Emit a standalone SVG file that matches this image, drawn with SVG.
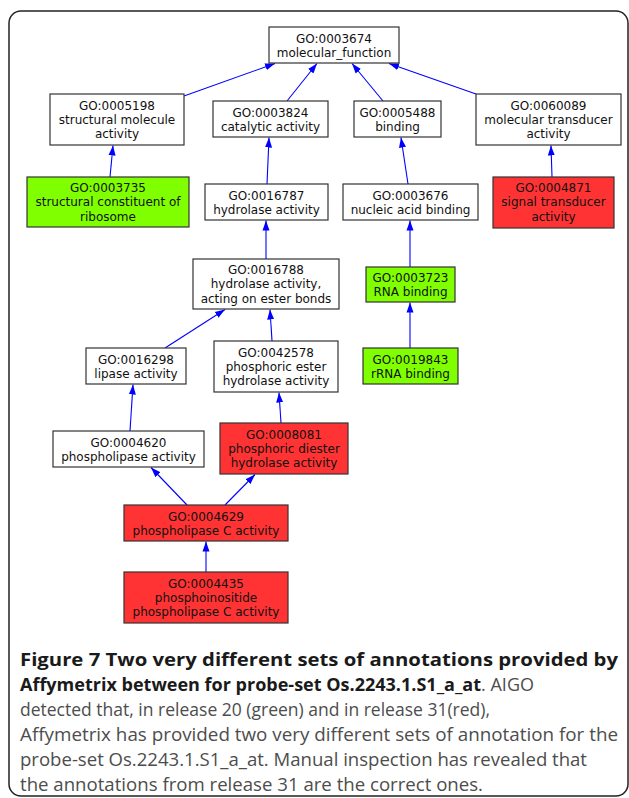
<svg xmlns="http://www.w3.org/2000/svg" width="629" height="798" viewBox="0 0 629 798">
<style>
.box{stroke:#333;stroke-width:1.2}
.w{fill:#ffffff}
.g{fill:#7fff00}
.r{fill:#ff3333}
.t{font-family:"DejaVu Sans",sans-serif;font-size:12px;fill:#111;text-anchor:middle}
.e{stroke:#0000ff;stroke-width:1.1;fill:none;marker-end:url(#ah)}
.cb{font-family:"Open Sans","Noto Sans",sans-serif;font-size:18px;font-weight:bold;fill:#1a1a1a}
.cr{font-family:"Open Sans","Noto Sans",sans-serif;font-size:18px;font-weight:normal;fill:#4d4d4d}
</style>
<defs>
<marker id="ah" markerUnits="userSpaceOnUse" markerWidth="10" markerHeight="8" refX="10" refY="4" orient="auto">
<path d="M0,0.5 L10,4 L0,7.5 z" fill="#0000ff"/>
</marker>
</defs>
<rect x="0" y="0" width="629" height="798" fill="#ffffff"/>
<rect x="9" y="11" width="619" height="785" rx="12" ry="12" fill="none" stroke="#222" stroke-width="1.5"/>

<g id="edges">
<line class="e" x1="184" y1="96" x2="275" y2="63.5"/>
<line class="e" x1="287" y1="101" x2="317" y2="63.5"/>
<line class="e" x1="383" y1="101" x2="352" y2="63.5"/>
<line class="e" x1="476" y1="94" x2="389" y2="63.5"/>
<line class="e" x1="110" y1="177" x2="113" y2="145.5"/>
<line class="e" x1="267" y1="184" x2="269" y2="137.5"/>
<line class="e" x1="408" y1="184" x2="401" y2="137.5"/>
<line class="e" x1="552" y1="177" x2="551" y2="145.5"/>
<line class="e" x1="266" y1="259" x2="266" y2="220.5"/>
<line class="e" x1="410" y1="267" x2="410" y2="220.5"/>
<line class="e" x1="165" y1="348" x2="225" y2="309.5"/>
<line class="e" x1="272" y1="341" x2="270" y2="309.5"/>
<line class="e" x1="410" y1="348" x2="410" y2="302.5"/>
<line class="e" x1="130" y1="431" x2="133" y2="384.5"/>
<line class="e" x1="281" y1="423" x2="279" y2="392.5"/>
<line class="e" x1="187" y1="505" x2="151" y2="467.5"/>
<line class="e" x1="225" y1="505" x2="255" y2="474.5"/>
<line class="e" x1="206" y1="572" x2="206" y2="541.5"/>
</g>

<g id="n0003674"><rect class="box w" x="269" y="27" width="130" height="36"/><text class="t" x="334" y="42.5">GO:0003674</text><text class="t" x="334" y="56.5">molecular_function</text></g>
<g id="n0005198"><rect class="box w" x="50" y="94" width="134" height="51"/><text class="t" x="117" y="109.5">GO:0005198</text><text class="t" x="117" y="123.8">structural molecule</text><text class="t" x="117" y="138.3">activity</text></g>
<g id="n0003824"><rect class="box w" x="213" y="101" width="115" height="36"/><text class="t" x="270.5" y="116.5">GO:0003824</text><text class="t" x="270.5" y="130.5">catalytic activity</text></g>
<g id="n0005488"><rect class="box w" x="354" y="101" width="87" height="36"/><text class="t" x="397.5" y="116.5">GO:0005488</text><text class="t" x="397.5" y="130.5">binding</text></g>
<g id="n0060089"><rect class="box w" x="476" y="94" width="145" height="51"/><text class="t" x="548.5" y="109.5">GO:0060089</text><text class="t" x="548.5" y="123.8">molecular transducer</text><text class="t" x="548.5" y="138.3">activity</text></g>
<g id="n0003735"><rect class="box g" x="27" y="177" width="162" height="50"/><text class="t" x="108" y="192">GO:0003735</text><text class="t" x="108" y="206.3">structural constituent of</text><text class="t" x="108" y="220.8">ribosome</text></g>
<g id="n0016787"><rect class="box w" x="205" y="184" width="123" height="36"/><text class="t" x="266.5" y="199.5">GO:0016787</text><text class="t" x="266.5" y="213.5">hydrolase activity</text></g>
<g id="n0003676"><rect class="box w" x="343" y="184" width="135" height="36"/><text class="t" x="410.5" y="199.5">GO:0003676</text><text class="t" x="410.5" y="213.5">nucleic acid binding</text></g>
<g id="n0004871"><rect class="box r" x="493" y="177" width="121" height="51"/><text class="t" x="553.5" y="192">GO:0004871</text><text class="t" x="553.5" y="206.3">signal transducer</text><text class="t" x="553.5" y="220.8">activity</text></g>
<g id="n0016788"><rect class="box w" x="193" y="259" width="146" height="50"/><text class="t" x="266" y="274">GO:0016788</text><text class="t" x="266" y="288.3">hydrolase activity,</text><text class="t" x="266" y="302.8">acting on ester bonds</text></g>
<g id="n0003723"><rect class="box g" x="366" y="267" width="89" height="35"/><text class="t" x="410.5" y="282">GO:0003723</text><text class="t" x="410.5" y="296">RNA binding</text></g>
<g id="n0016298"><rect class="box w" x="86" y="348" width="100" height="36"/><text class="t" x="136" y="363.5">GO:0016298</text><text class="t" x="136" y="377.5">lipase activity</text></g>
<g id="n0042578"><rect class="box w" x="214" y="341" width="124" height="51"/><text class="t" x="276" y="356.5">GO:0042578</text><text class="t" x="276" y="370.8">phosphoric ester</text><text class="t" x="276" y="385.3">hydrolase activity</text></g>
<g id="n0019843"><rect class="box g" x="363" y="348" width="95" height="36"/><text class="t" x="410.5" y="363.5">GO:0019843</text><text class="t" x="410.5" y="377.5">rRNA binding</text></g>
<g id="n0004620"><rect class="box w" x="53" y="431" width="151" height="36"/><text class="t" x="128.5" y="446.5">GO:0004620</text><text class="t" x="128.5" y="460.5">phospholipase activity</text></g>
<g id="n0008081"><rect class="box r" x="220" y="423" width="128" height="51"/><text class="t" x="284" y="438.5">GO:0008081</text><text class="t" x="284" y="452.8">phosphoric diester</text><text class="t" x="284" y="467.3">hydrolase activity</text></g>
<g id="n0004629"><rect class="box r" x="124" y="505" width="164" height="36"/><text class="t" x="206" y="520.5">GO:0004629</text><text class="t" x="206" y="534.5">phospholipase C activity</text></g>
<g id="n0004435"><rect class="box r" x="124" y="572" width="164" height="51"/><text class="t" x="206" y="587.5">GO:0004435</text><text class="t" x="206" y="601.8">phosphoinositide</text><text class="t" x="206" y="616.3">phospholipase C activity</text></g>

<g id="caption">
<text class="cb" x="20" y="666" textLength="598" lengthAdjust="spacingAndGlyphs">Figure 7 Two very different sets of annotations provided by</text>
<text class="cb" x="20" y="691" textLength="514" lengthAdjust="spacingAndGlyphs">Affymetrix between for probe-set Os.2243.1.S1_a_at<tspan class="cr">. AIGO</tspan></text>
<text class="cr" x="20" y="716" textLength="470" lengthAdjust="spacingAndGlyphs">detected that, in release 20 (green) and in release 31(red),</text>
<text class="cr" x="20" y="741" textLength="598" lengthAdjust="spacingAndGlyphs">Affymetrix has provided two very different sets of annotation for the</text>
<text class="cr" x="20" y="766" textLength="567" lengthAdjust="spacingAndGlyphs">probe-set Os.2243.1.S1_a_at. Manual inspection has revealed that</text>
<text class="cr" x="20" y="791" textLength="463" lengthAdjust="spacingAndGlyphs">the annotations from release 31 are the correct ones.</text>
</g>
</svg>
